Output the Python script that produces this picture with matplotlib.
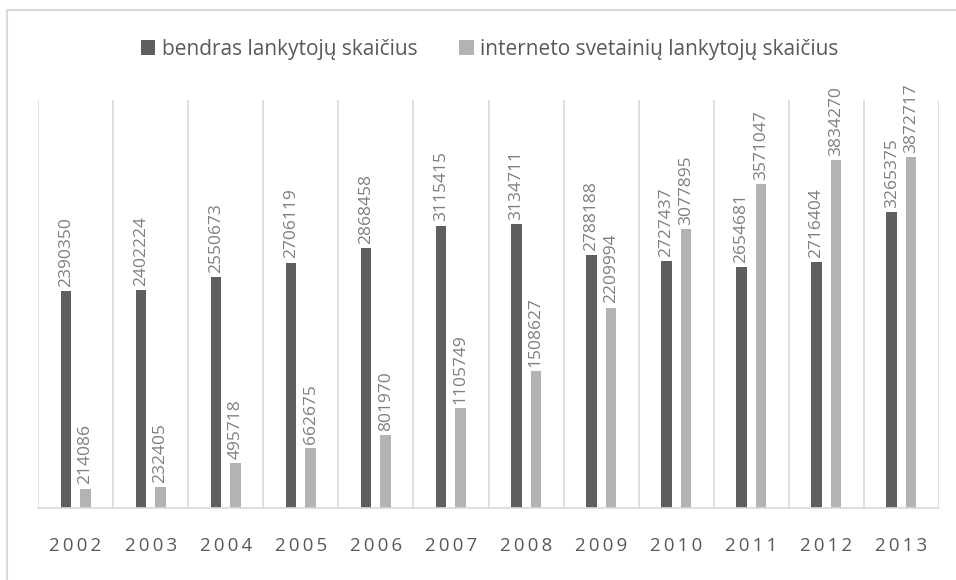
import matplotlib.pyplot as plt
import numpy as np

# Lankytojų skaičius pagal metus
years = ["2002", "2003", "2004", "2005", "2006", "2007",
         "2008", "2009", "2010", "2011", "2012", "2013"]
bendras = [2390350, 2402224, 2550673, 2706119, 2868458, 3115415,
           3134711, 2788188, 2727437, 2654681, 2716404, 3265375]
internetas = [214086, 232405, 495718, 662675, 801970, 1105749,
              1508627, 2209994, 3077895, 3571047, 3834270, 3872717]
series_names = ["bendras lankytojų skaičius",
                "interneto svetainių lankytojų skaičius"]

dark = "#5f5f5f"
light = "#b3b3b3"
grid = "#d9d9d9"
text_col = "#595959"

plt.rcParams["font.family"] = ["Open Sans", "DejaVu Sans"]

fig = plt.figure(figsize=(9.56, 5.80), dpi=100)
ax = fig.add_axes([38 / 956, 1 - 508 / 580, (939 - 38) / 956, (508 - 100) / 580])

x = np.arange(len(years))
w = 0.14
b1 = ax.bar(x - 0.13, bendras, w, color=dark, label=series_names[0])
b2 = ax.bar(x + 0.13, internetas, w, color=light, label=series_names[1])

# value labels, rotated
for bars in (b1, b2):
    for rect in bars:
        h = rect.get_height()
        ax.annotate(str(int(h)), (rect.get_x() + rect.get_width() / 2, h),
                    xytext=(0, 3), textcoords="offset points",
                    rotation=90, ha="center", va="bottom",
                    fontsize=12.5, color="#7f7f7f")

ax.set_xlim(-0.5, len(years) - 0.5)
ax.set_ylim(0, 4500000)

# category separators
for b in np.arange(-0.5, len(years), 1.0):
    ax.axvline(b, color=grid, lw=1.2, zorder=0)

for s in ["top", "left", "right"]:
    ax.spines[s].set_visible(False)
ax.spines["bottom"].set_color(grid)
ax.spines["bottom"].set_linewidth(1.2)

ax.set_yticks([])
ax.set_xticks(x)
ax.set_xticklabels(["\u2009".join(y) for y in years], fontsize=13.5, color=text_col)
ax.tick_params(axis="x", length=0, pad=21)

fig.legend(handles=[b1, b2], labels=series_names, loc="center",
           bbox_to_anchor=(0.512, 1 - 49 / 580), ncol=2, frameon=False,
           fontsize=15, labelcolor=text_col, handlelength=0.7,
           handleheight=0.7, handletextpad=0.3, columnspacing=2.0)

# outer chart border (cropped at right and bottom)
fig.add_artist(plt.Line2D([7 / 956, 1], [1 - 10 / 580, 1 - 10 / 580],
                          color=grid, lw=1.5, transform=fig.transFigure))
fig.add_artist(plt.Line2D([7 / 956, 7 / 956], [0, 1 - 10 / 580],
                          color=grid, lw=1.5, transform=fig.transFigure))

fig.savefig("out.png", dpi=100)
